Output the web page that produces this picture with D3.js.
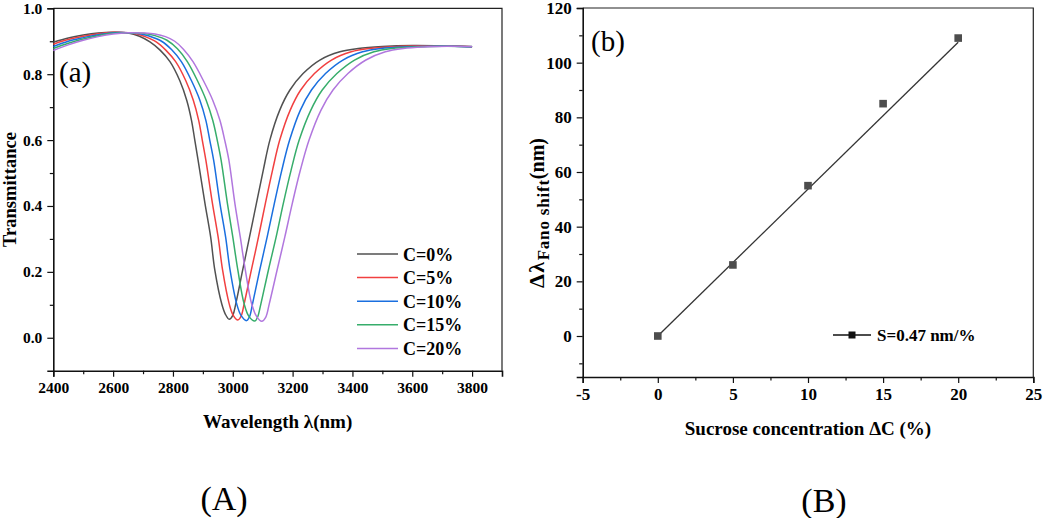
<!DOCTYPE html>
<html>
<head>
<meta charset="utf-8">
<script src="https://cdn.jsdelivr.net/npm/d3@7"></script>
<style>
  body { margin: 0; background: #fff; }
  text { font-family: "Liberation Serif", "Times New Roman", serif; fill: #000; }
  .tick text { font-weight: bold; }
  .ttl { font-weight: bold; font-size: 19px; }
</style>
</head>
<body>
<div id="chart"></div>
<script>
// Panel (a): transmittance spectra, [wavelength nm, T]
const c0 = [[2400,0.897],[2450,0.910],[2500,0.919],[2550,0.925],[2600,0.927],[2650,0.925],[2688,0.915],
  [2723,0.898],[2757,0.873],[2790,0.838],[2823,0.780],[2846,0.721],[2862,0.660],[2873,0.600],[2884,0.539],[2907,0.408],[2926,0.306],[2940,0.205],[2963,0.103],[2975,0.072],[2988,0.056],
  [3000,0.068],[3010,0.103],[3033,0.205],[3056,0.306],[3079,0.408],[3102,0.509],[3124,0.600],[3157,0.691],[3191,0.752],[3235,0.802],[3291,0.843],[3358,0.868],[3419,0.878],[3500,0.884],[3600,0.887],[3700,0.886],[3800,0.883]];
const c5 = [[2400,0.891],[2450,0.905],[2500,0.915],[2550,0.923],[2600,0.927],[2650,0.926],[2680,0.922],[2704,0.915],
  [2744,0.898],[2776,0.873],[2809,0.838],[2843,0.780],[2868,0.721],[2886,0.660],[2898,0.600],[2910,0.539],[2932,0.408],[2951,0.306],[2966,0.205],[2988,0.103],[3001,0.069],[3017,0.054],
  [3028,0.066],[3038,0.103],[3062,0.205],[3086,0.306],[3109,0.408],[3133,0.509],[3157,0.600],[3192,0.691],[3227,0.752],[3273,0.802],[3330,0.843],[3396,0.868],[3457,0.878],[3550,0.884],[3650,0.886],[3720,0.886],[3800,0.883]];
const c10 = [[2400,0.884],[2450,0.900],[2500,0.911],[2550,0.920],[2600,0.926],[2650,0.926],[2690,0.923],[2720,0.916],
  [2762,0.900],[2796,0.874],[2828,0.838],[2862,0.780],[2890,0.721],[2910,0.660],[2923,0.600],[2936,0.539],[2957,0.408],[2976,0.306],[2991,0.205],[3013,0.103],[3028,0.067],[3046,0.052],
  [3056,0.064],[3066,0.103],[3090,0.205],[3115,0.306],[3139,0.408],[3164,0.509],[3190,0.600],[3226,0.691],[3263,0.752],[3310,0.802],[3368,0.843],[3434,0.868],[3495,0.878],[3580,0.883],[3660,0.885],[3740,0.885],[3800,0.883]];
const c15 = [[2400,0.878],[2450,0.894],[2500,0.907],[2550,0.917],[2600,0.924],[2650,0.926],[2700,0.924],[2740,0.917],
  [2780,0.903],[2815,0.877],[2848,0.838],[2882,0.780],[2911,0.721],[2933,0.660],[2948,0.600],[2961,0.539],[2982,0.408],[3000,0.306],[3017,0.205],[3038,0.103],[3054,0.065],[3074,0.051],
  [3083,0.063],[3094,0.103],[3119,0.205],[3145,0.306],[3169,0.408],[3195,0.509],[3222,0.600],[3261,0.691],[3299,0.752],[3348,0.802],[3407,0.843],[3472,0.868],[3532,0.878],[3620,0.883],[3700,0.885],[3800,0.884]];
const c20 = [[2400,0.872],[2450,0.889],[2500,0.903],[2550,0.914],[2600,0.922],[2650,0.926],[2700,0.925],[2740,0.922],
  [2775,0.914],[2806,0.900],[2835,0.876],[2867,0.838],[2902,0.780],[2933,0.721],[2957,0.660],[2973,0.600],[2987,0.539],[3007,0.408],[3025,0.306],[3042,0.205],[3063,0.103],[3080,0.064],[3097,0.050],
  [3110,0.062],[3122,0.103],[3148,0.205],[3174,0.306],[3199,0.408],[3226,0.509],[3255,0.600],[3295,0.691],[3335,0.752],[3385,0.802],[3445,0.843],[3510,0.868],[3570,0.878],[3650,0.883],[3720,0.885],[3800,0.884]];
const seriesNames = ['C=0%', 'C=5%', 'C=10%', 'C=15%', 'C=20%'];
const seriesData = [c0, c5, c10, c15, c20];
const seriesColors = ['#515151', '#F14040', '#1A6FDF', '#37AD6B', '#B177DE'];

// Panel (b): Fano shift vs concentration
const conc = [0, 5, 10, 15, 20];
const shift = [0, 26, 55, 85, 109];
const fitConc = [0, 20];
const fitShift = [0, 107.5];

const wlTicks = [2400, 2600, 2800, 3000, 3200, 3400, 3600, 3800];
const wlMinor = [2500, 2700, 2900, 3100, 3300, 3500, 3700];
const tTicks = [0.0, 0.2, 0.4, 0.6, 0.8, 1.0];
const tMinor = [0.1, 0.3, 0.5, 0.7, 0.9];
const cTicks = [-5, 0, 5, 10, 15, 20, 25];
const cMinor = [-2.5, 2.5, 7.5, 12.5, 17.5, 22.5];
const sTicks = [0, 20, 40, 60, 80, 100, 120];
const sMinor = [-10, 10, 30, 50, 70, 90, 110];

const svg = d3.select('#chart').append('svg')
  .attr('width', 1052).attr('height', 518);

function frame(g, x, y, xt, xm, yt, ym, xFmt, yFmt, fs) {
  const [x0, x1] = x.range();
  const [y0, y1] = y.range();
  // thin top/right border
  g.append('path')
    .attr('d', `M${x0},${y1}H${x1}V${y0}`)
    .attr('fill', 'none').attr('stroke', '#222').attr('stroke-width', 1.2);
  g.append('g').attr('transform', `translate(0,${y0})`)
    .call(d3.axisBottom(x).tickValues(xt).tickSize(6).tickPadding(5).tickFormat(xFmt));
  g.append('g').attr('transform', `translate(0,${y0})`)
    .call(d3.axisBottom(x).tickValues(xm).tickSize(3.5).tickFormat(''))
    .select('.domain').remove();
  g.append('g').attr('transform', `translate(${x0},0)`)
    .call(d3.axisLeft(y).tickValues(yt).tickSize(6).tickPadding(5).tickFormat(yFmt));
  g.append('g').attr('transform', `translate(${x0},0)`)
    .call(d3.axisLeft(y).tickValues(ym).tickSize(3.5).tickFormat(''))
    .select('.domain').remove();
  g.selectAll('.domain').attr('stroke', '#111').attr('stroke-width', 1.6);
  g.selectAll('.tick line').attr('stroke', '#111').attr('stroke-width', 1.2);
  g.selectAll('.tick text').style('font-size', fs + 'px');
}

// ---------- Panel (a)
const xA = d3.scaleLinear().domain([2400, 3900]).range([53.3, 502]);
const yA = d3.scaleLinear().domain([-0.1, 1.0]).range([370.7, 8.3]);
const gA = svg.append('g');
frame(gA, xA, yA, wlTicks, wlMinor, tTicks, tMinor, d => d, d3.format('.1f'), 15.5);

const lineA = d3.line()
  .x(d => xA(d[0]))
  .y(d => yA(d[1]))
  .curve(d3.curveCatmullRom.alpha(0.5));

gA.selectAll('.spec')
  .data(seriesData)
  .join('path')
  .attr('class', 'spec')
  .attr('d', lineA)
  .attr('fill', 'none')
  .attr('stroke', (d, i) => seriesColors[i])
  .attr('stroke-width', 1.5);

gA.append('text').attr('x', 59).attr('y', 82)
  .style('font-size', '29px').text('(a)');

const legA = gA.append('g').attr('transform', 'translate(357,254)');
seriesNames.forEach((name, i) => {
  const row = legA.append('g').attr('transform', `translate(0,${i * 23.6})`);
  row.append('line').attr('x1', 0).attr('x2', 41)
    .attr('stroke', seriesColors[i]).attr('stroke-width', 1.5);
  row.append('text').attr('x', 46).attr('y', 6.5)
    .style('font-weight', 'bold').style('font-size', '18px').text(name);
});

gA.append('text').attr('class', 'ttl')
  .attr('x', (xA.range()[0] + xA.range()[1]) / 2).attr('y', 428).attr('text-anchor', 'middle')
  .text('Wavelength λ(nm)');
gA.append('text').attr('class', 'ttl')
  .attr('transform', `translate(16,${(yA.range()[0] + yA.range()[1]) / 2}) rotate(-90)`)
  .attr('text-anchor', 'middle')
  .style('font-size', '18.5px')
  .text('Transmittance');
gA.append('text').attr('x', 224).attr('y', 510).attr('text-anchor', 'middle')
  .style('font-size', '34px').text('(A)');

// ---------- Panel (b)
const xB = d3.scaleLinear().domain([-5, 25]).range([582.7, 1033.3]);
const yB = d3.scaleLinear().domain([-15, 120]).range([377, 8]);
const gB = svg.append('g');
frame(gB, xB, yB, cTicks, cMinor, sTicks, sMinor, d => d, d => d, 17);

const fitLine = d3.line()
  .x(d => xB(d[0]))
  .y(d => yB(d[1]));
gB.append('path')
  .attr('d', fitLine(d3.zip(fitConc, fitShift)))
  .attr('fill', 'none').attr('stroke', '#333').attr('stroke-width', 1.3);

gB.selectAll('.pt')
  .data(d3.zip(conc, shift))
  .join('rect')
  .attr('class', 'pt')
  .attr('x', d => xB(d[0]) - 3.8)
  .attr('y', d => yB(d[1]) - 3.8)
  .attr('width', 7.6).attr('height', 7.6)
  .attr('fill', '#4d4d4d');

gB.append('text').attr('x', 591).attr('y', 51)
  .style('font-size', '29px').text('(b)');

const legB = gB.append('g').attr('transform', 'translate(833,335)');
legB.append('line').attr('x1', 0).attr('x2', 38)
  .attr('stroke', '#111').attr('stroke-width', 1.5);
legB.append('rect').attr('x', 15.5).attr('y', -3.5).attr('width', 7).attr('height', 7)
  .attr('fill', '#111');
legB.append('text').attr('x', 44).attr('y', 6)
  .style('font-weight', 'bold').style('font-size', '17px')
  .text('S=0.47 nm/%');

gB.append('text').attr('class', 'ttl')
  .attr('x', (xB.range()[0] + xB.range()[1]) / 2).attr('y', 435).attr('text-anchor', 'middle')
  .text('Sucrose concentration ΔC (%)');
const yTitle = gB.append('text').attr('class', 'ttl')
  .attr('transform', 'translate(544,213) rotate(-90)')
  .attr('text-anchor', 'middle')
  .style('font-size', '20px');
yTitle.append('tspan').style('font-size', '22px').style('letter-spacing', '1.5px').text('Δλ');
yTitle.append('tspan').attr('dy', 5).style('font-size', '17px').style('letter-spacing', '0.8px').text('Fano shift');
yTitle.append('tspan').attr('dy', -5).style('letter-spacing', '0px').text('(nm)');
gB.append('text').attr('x', 824).attr('y', 512).attr('text-anchor', 'middle')
  .style('font-size', '34px').text('(B)');
</script>
</body>
</html>
